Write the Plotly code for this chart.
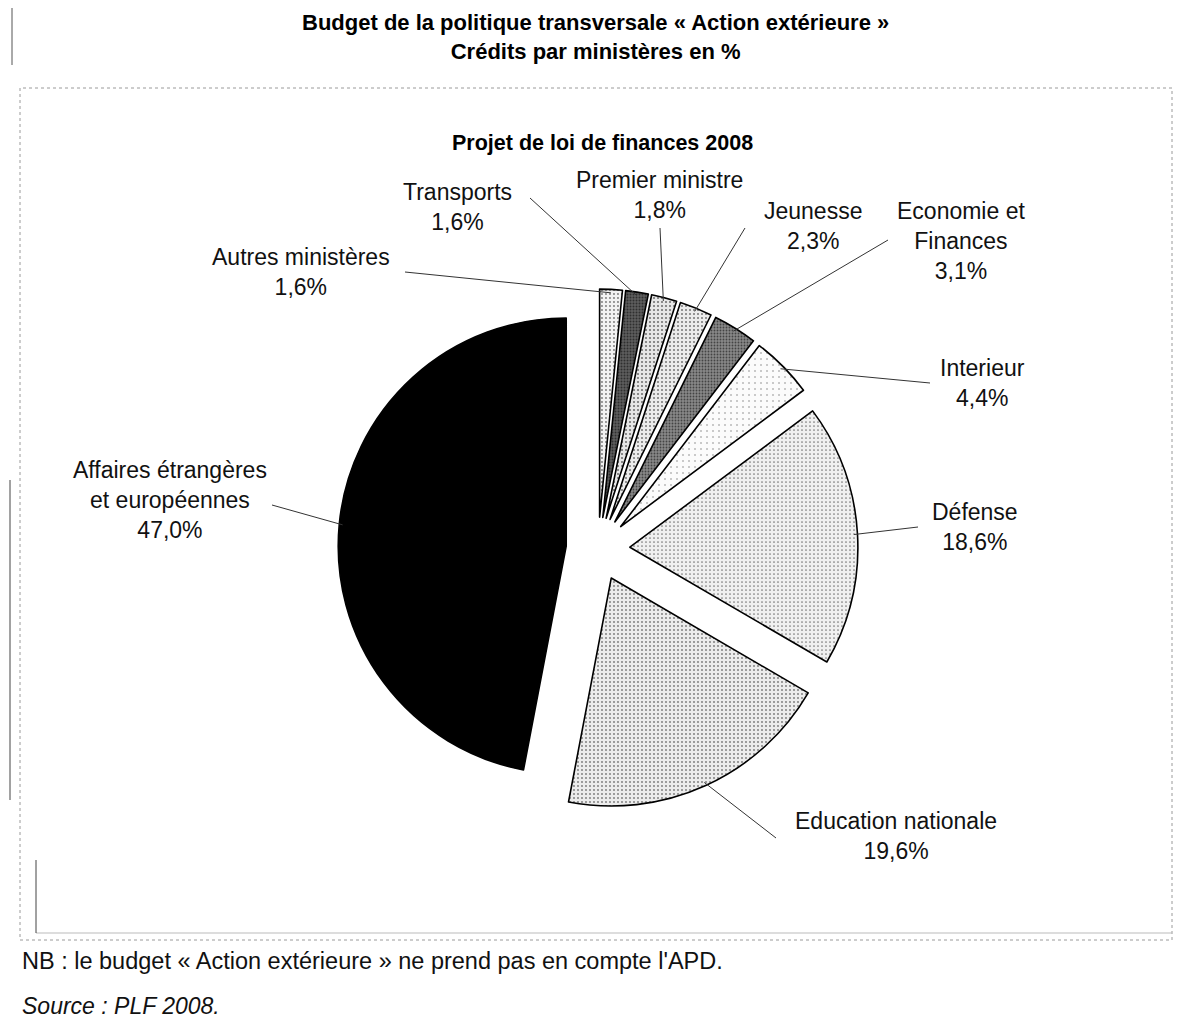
import math
import plotly.graph_objects as go

# the page shows the figure with an 8 px body margin
OFF = 8
W, H = 1172, 1012

# ---- data ----
categories = ["Autres ministères", "Transports", "Premier ministre", "Jeunesse",
              "Economie et Finances", "Interieur", "Défense", "Education nationale",
              "Affaires étrangères et européennes"]
values = [1.6, 1.6, 1.8, 2.3, 3.1, 4.4, 18.6, 19.6, 47.0]
label_texts = ["Autres ministères", "Transports", "Premier ministre", "Jeunesse",
               "Economie et<br>Finances", "Interieur", "Défense", "Education nationale",
               "Affaires étrangères<br>et européennes"]

# ---- styles ----
slice_colors = ["#f2f2f2", "#5e5e5e", "#e6e6e6", "#ebebeb", "#888888",
                "#fbfbfb", "#f0f0f0", "#ececec", "#000000"]
pat_shapes = [".", ".", ".", ".", ".", ".", ".", ".", ""]
pat_solidity = [0.18, 0.35, 0.22, 0.2, 0.3, 0.05, 0.14, 0.16, 0.1]
pat_size = [4, 3, 4, 4, 3, 6, 4, 4, 4]

# label block centres and leader-line start points (page pixels)
label_pos = [(301, 272), (457, 207), (660, 195), (813, 226), (961, 241),
             (982, 383), (975, 527), (896, 836), (170, 500)]
leader_start = [(405, 272), (530, 198), (660, 228), (745, 228), (888, 240),
                (930, 383), (918, 527), (776, 838), (272, 505)]

CX, CY = 598, 549   # page pixels
R = 228
PULL = 0.14
FONT = "Liberation Sans, Arial, sans-serif"


def px(x):
    return (x - OFF) / W


def py(y):
    return 1 - (y - OFF) / H


half = R * (1 + PULL)
dom_x = [px(CX - half), px(CX + half)]
dom_y = [py(CY + half), py(CY - half)]

fig = go.Figure(go.Pie(
    labels=categories,
    values=values,
    sort=False,
    direction="clockwise",
    rotation=0,
    pull=[PULL] * len(values),
    textinfo="none",
    hoverinfo="label+percent",
    marker=dict(
        colors=slice_colors,
        line=dict(color="#000000", width=1.6),
        pattern=dict(shape=pat_shapes, fillmode="overlay", fgcolor="#000000",
                     solidity=pat_solidity, size=pat_size),
    ),
    domain=dict(x=dom_x, y=dom_y),
    showlegend=False,
))

annotations = []
shapes = []
total = sum(values)
cum = 0.0
for i, v in enumerate(values):
    mid = math.radians((cum + v / 2) / total * 360)
    cum += v
    d = R * PULL + R * 0.985
    tx = CX + d * math.sin(mid)
    ty = CY - d * math.cos(mid)
    sx, sy = leader_start[i]
    shapes.append(dict(type="line", xref="paper", yref="paper",
                       x0=px(sx), y0=py(sy), x1=px(tx), y1=py(ty),
                       line=dict(color="#333333", width=1)))
    pct = f"{v:.1f}".replace(".", ",") + "%"
    lx, ly = label_pos[i]
    annotations.append(dict(text=f"{label_texts[i]}<br>{pct}", x=px(lx), y=py(ly),
                            xref="paper", yref="paper", xanchor="center", yanchor="middle",
                            align="center", showarrow=False,
                            font=dict(family=FONT, size=23, color="#111111")))

# titles and notes
annotations += [
    dict(text="<b>Budget de la politique transversale « Action extérieure »</b><br>"
              "<b>Crédits par ministères en %</b>",
         x=px(595), y=py(37), xref="paper", yref="paper", xanchor="center", yanchor="middle",
         showarrow=False, align="center", font=dict(family=FONT, size=22, color="#000000")),
    dict(text="<b>Projet de loi de finances 2008</b>",
         x=px(602), y=py(143), xref="paper", yref="paper", xanchor="center", yanchor="middle",
         showarrow=False, font=dict(family=FONT, size=21.5, color="#000000")),
    dict(text="NB : le budget « Action extérieure » ne prend pas en compte l'APD.",
         x=px(20), y=py(961), xref="paper", yref="paper", xanchor="left", yanchor="middle",
         showarrow=False, font=dict(family=FONT, size=23.5, color="#111111")),
    dict(text="<i>Source : PLF 2008.</i>",
         x=px(20), y=py(1006), xref="paper", yref="paper", xanchor="left", yanchor="middle",
         showarrow=False, font=dict(family=FONT, size=23, color="#111111")),
]

# chart frame and page lines
shapes += [
    dict(type="rect", xref="paper", yref="paper", x0=px(20), y0=py(940), x1=px(1172), y1=py(88),
         line=dict(color="#9a9a9a", width=1, dash="dot")),
    dict(type="line", xref="paper", yref="paper", x0=px(36), y0=py(933), x1=px(1172), y1=py(933),
         line=dict(color="#bbbbbb", width=1)),
    dict(type="line", xref="paper", yref="paper", x0=px(36), y0=py(860), x1=px(36), y1=py(933),
         line=dict(color="#444444", width=1)),
    dict(type="line", xref="paper", yref="paper", x0=px(10), y0=py(480), x1=px(10), y1=py(800),
         line=dict(color="#444444", width=1)),
    dict(type="line", xref="paper", yref="paper", x0=px(12), y0=py(3), x1=px(1180), y1=py(3),
         line=dict(color="#222222", width=1.5)),
    dict(type="line", xref="paper", yref="paper", x0=px(12), y0=py(3), x1=px(12), y1=py(65),
         line=dict(color="#555555", width=1)),
]

fig.update_layout(
    width=W, height=H,
    margin=dict(l=0, r=0, t=0, b=0),
    paper_bgcolor="#ffffff",
    plot_bgcolor="#ffffff",
    annotations=annotations,
    shapes=shapes,
)

fig.write_html("out.html")
